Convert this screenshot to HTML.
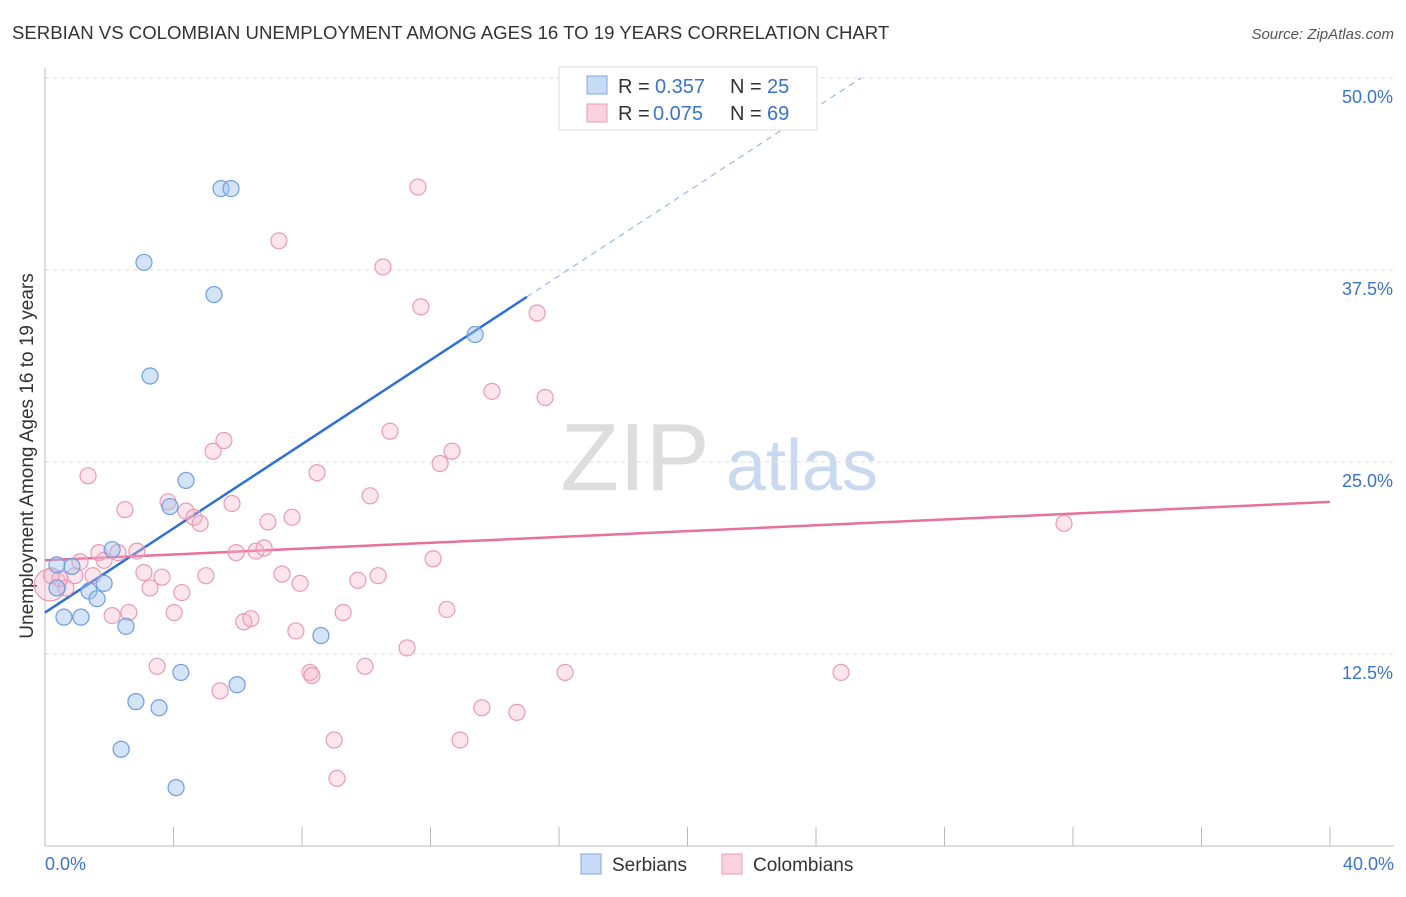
<!DOCTYPE html>
<html><head><meta charset="utf-8">
<style>
body{margin:0;background:#fff;font-family:"Liberation Sans",sans-serif;}
svg text{font-family:"Liberation Sans",sans-serif;}
</style></head>
<body>
<svg id="chart" width="1406" height="892" xmlns="http://www.w3.org/2000/svg">
<text x="12" y="39" font-size="18.6" fill="#333">SERBIAN VS COLOMBIAN UNEMPLOYMENT AMONG AGES 16 TO 19 YEARS CORRELATION CHART</text>
<text x="1394" y="39" font-size="15" fill="#555" text-anchor="end" font-style="italic">Source: ZipAtlas.com</text>
<text transform="translate(33,456) rotate(-90)" font-size="19" fill="#333" text-anchor="middle">Unemployment Among Ages 16 to 19 years</text>
<g>
<text x="635" y="490" font-size="96" fill="#ddd" text-anchor="middle" font-family="Liberation Serif">ZIP</text>
<text x="802" y="490" font-size="72" fill="#c9d9ef" text-anchor="middle">atlas</text>
</g>
<g id="grid"></g><g id="axes"></g><g id="lines"></g><g id="points"></g>
<g>
<rect x="559" y="67" width="258" height="63" fill="#fff" stroke="#ddd"/>
<rect x="587" y="76" width="20" height="18" fill="rgba(160,196,240,0.6)" stroke="#7ba7e0"/>
<rect x="587" y="104" width="20" height="18" fill="rgba(245,180,200,0.6)" stroke="#ea9ab5"/>
<text x="618" y="93" font-size="20" fill="#333">R = </text>
<text x="655" y="93" font-size="20" fill="#3a72d0">0.357</text>
<text x="730" y="93" font-size="20" fill="#333">N = </text>
<text x="767" y="93" font-size="20" fill="#3a72d0">25</text>
<text x="618" y="120" font-size="20" fill="#333">R = </text>
<text x="653" y="120" font-size="20" fill="#3a72d0">0.075</text>
<text x="730" y="120" font-size="20" fill="#333">N = </text>
<text x="767" y="120" font-size="20" fill="#3a72d0">69</text>
</g>
<g>
<rect x="581" y="854" width="20" height="20" fill="rgba(160,196,240,0.6)" stroke="#7ba7e0"/>
<text x="612" y="871" font-size="19" fill="#333">Serbians</text>
<rect x="722" y="854" width="20" height="20" fill="rgba(245,180,200,0.6)" stroke="#ea9ab5"/>
<text x="753" y="871" font-size="19" fill="#333">Colombians</text>
</g>
</svg>
<script>
const serbX=[0.37,0.37,0.84,1.37,1.62,1.84,2.09,0.59,1.12,2.52,2.83,3.55,2.37,4.08,4.23,5.98,8.59,4.39,3.89,3.27,3.08,5.26,5.48,5.79,13.39];
const serbY=[18.3,16.8,18.2,16.6,16.1,17.1,19.3,14.9,14.9,14.3,9.4,9.0,6.3,3.8,11.3,10.5,13.7,23.8,22.1,30.6,38.0,35.9,42.8,42.8,33.3];
const colX=[0.16,0.47,0.93,0.65,1.09,1.68,1.84,2.27,2.86,1.34,2.49,1.49,2.09,2.61,3.08,3.27,3.64,4.02,4.26,5.01,3.83,4.39,4.64,4.83,5.23,5.57,5.82,5.95,6.19,6.41,6.57,6.82,6.94,7.38,7.69,7.94,7.81,8.25,8.31,8.47,7.28,5.45,3.49,9.00,9.09,9.28,9.74,9.96,10.12,10.37,10.52,10.74,11.27,11.70,11.61,12.08,12.30,12.51,12.67,12.92,13.60,13.91,14.69,15.32,15.57,16.19,24.78,31.72,0.2];
const colY=[17.0,17.4,17.6,16.8,18.5,19.1,18.6,19.1,19.2,24.1,21.9,17.6,15.0,15.2,17.8,16.8,17.5,15.2,16.5,17.6,22.4,21.8,21.4,21.0,25.7,26.4,22.3,19.1,14.6,14.8,19.2,19.4,21.1,17.7,21.4,17.1,14.0,11.3,11.1,24.3,39.4,10.1,11.7,6.9,4.4,15.2,17.3,11.7,22.8,17.6,37.7,27.0,12.9,35.1,42.9,18.7,24.9,15.4,25.7,6.9,9.0,29.6,8.7,34.7,29.2,11.3,11.3,21.0,17.6];
const yTicks=[12.5,25.0,37.5,50.0];
const xTickVals=[0,4,8,12,16,20,24,28,32,36,40];
const serbLine=[15.2,1.37];
const colLine=[18.6,0.095];
const X=v=>45+v/40*1285, Y=v=>846-v/50*768;
const NS='http://www.w3.org/2000/svg';
function mk(p,t,a){const e=document.createElementNS(NS,t);for(const k in a)e.setAttribute(k,a[k]);p.appendChild(e);return e;}
const grid=document.getElementById('grid'),axes=document.getElementById('axes'),lines=document.getElementById('lines'),pts=document.getElementById('points');
yTicks.forEach(t=>{
 const l=mk(grid,'line',{x1:45,x2:1394,y1:Y(t),y2:Y(t),stroke:'#ddd','stroke-dasharray':'4,4'});
 
 
 const tx=mk(axes,'text',{x:1393,y:Y(t)+25,'font-size':18,fill:'#3a72d0','text-anchor':'end'});
 tx.textContent=t.toFixed(1)+'%';
 
 
});
const ax=mk(axes,'line',{x1:45,x2:45,y1:68,y2:846,stroke:'#bbb'});


const bx=mk(axes,'line',{x1:45,x2:1394,y1:846,y2:846,stroke:'#bbb'});


xTickVals.forEach(t=>{
 const l=mk(axes,'line',{x1:X(t),x2:X(t),y1:827,y2:846,stroke:'#bbb'});
 
 
});
[[0,'start',45],[40,'end',1394]].forEach(([v,a,px])=>{
 const tx=mk(axes,'text',{x:px,y:870,'font-size':18,fill:'#3a72d0','text-anchor':a});
 tx.textContent=v.toFixed(1)+'%';
 
 
});
const sEnd=15.0, sDash=(50-serbLine[0])/serbLine[1];
const l1=mk(lines,'line',{x1:X(0),y1:Y(serbLine[0]),x2:X(sEnd),y2:Y(serbLine[0]+serbLine[1]*sEnd),stroke:'#2f6fd6','stroke-width':2.5});


const l2=mk(lines,'line',{x1:X(sEnd),y1:Y(serbLine[0]+serbLine[1]*sEnd),x2:X(sDash),y2:Y(50),stroke:'#9ab8e6','stroke-width':1.2,'stroke-dasharray':'6,5'});


const l3=mk(lines,'line',{x1:X(0),y1:Y(colLine[0]),x2:X(40),y2:Y(colLine[0]+colLine[1]*40),stroke:'#e8709a','stroke-width':2.5});


colX.forEach((v,i)=>{
 const c=mk(pts,'circle',{cx:X(v),cy:Y(colY[i]),r:i===0?16:8,fill:'rgba(245,180,200,0.35)',stroke:'#ea9ab5','stroke-width':1.2});
 
 
});
serbX.forEach((v,i)=>{
 const c=mk(pts,'circle',{cx:X(v),cy:Y(serbY[i]),r:8,fill:'rgba(160,196,240,0.45)',stroke:'#6f9ede','stroke-width':1.2});
 
 
});
</script>
</body></html>
